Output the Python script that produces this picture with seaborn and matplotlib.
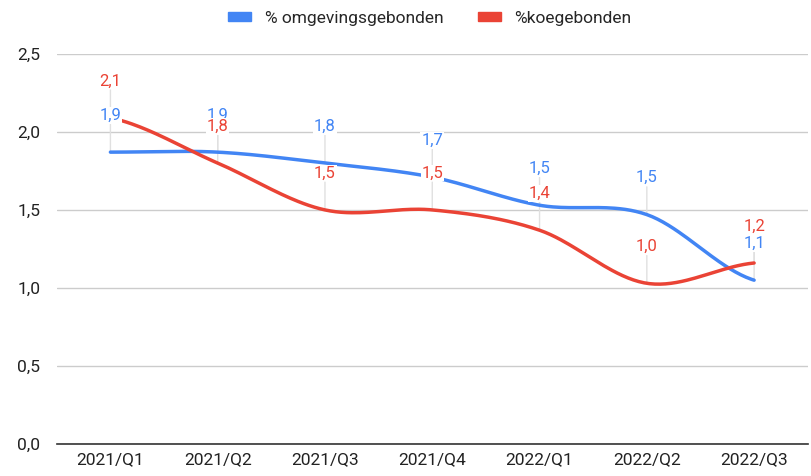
import numpy as np
import pandas as pd
import seaborn as sns
import matplotlib.pyplot as plt
from matplotlib.patches import Patch
from matplotlib.ticker import FuncFormatter

sns.set_theme(style="white")
plt.rcParams['font.family'] = ['Roboto', 'DejaVu Sans']

quarters = ["2021/Q1", "2021/Q2", "2021/Q3", "2021/Q4", "2022/Q1", "2022/Q2", "2022/Q3"]
omgeving = [1.87, 1.87, 1.80, 1.71, 1.53, 1.47, 1.05]
koe = [2.09, 1.80, 1.50, 1.50, 1.37, 1.03, 1.16]

blue = "#4285F4"
red = "#EA4335"


def smooth(vals, n=40):
    # catmull-rom curve through the points, for the rounded line look
    p = np.array(vals, dtype=float)
    p = np.concatenate([[p[0]], p, [p[-1]]])
    xs, ys = [], []
    for i in range(1, len(p) - 2):
        t = np.linspace(0, 1, n, endpoint=False)
        p0, p1, p2, p3 = p[i - 1], p[i], p[i + 1], p[i + 2]
        y = 0.5 * (2 * p1 + (-p0 + p2) * t + (2 * p0 - 5 * p1 + 4 * p2 - p3) * t ** 2
                   + (-p0 + 3 * p1 - 3 * p2 + p3) * t ** 3)
        xs.extend(i - 1 + t)
        ys.extend(y)
    xs.append(len(vals) - 1)
    ys.append(vals[-1])
    return pd.DataFrame({"x": xs, "y": ys})


fig = plt.figure(figsize=(8.11, 4.76), dpi=100)
ax = fig.add_axes([0.070, 0.067, 0.926, 0.82])

for vals, col in [(omgeving, blue), (koe, red)]:
    sns.lineplot(data=smooth(vals), x="x", y="y", color=col, linewidth=2.5, ax=ax,
                 estimator=None, sort=False, zorder=2)

# leader lines first, labels (with white box) on top of the lines
for vals, col in [(omgeving, blue), (koe, red)]:
    for i, v in enumerate(vals):
        ax.annotate("", xy=(i, v), xytext=(0, 20), textcoords="offset points",
                    arrowprops=dict(arrowstyle="-", color="#e0e0e0", lw=1,
                                    shrinkA=0, shrinkB=0),
                    zorder=1)
for vals, col in [(omgeving, blue), (koe, red)]:
    for i, v in enumerate(vals):
        ax.annotate(f"{v:.1f}".replace(".", ","), xy=(i, v), xytext=(0, 26.5),
                    textcoords="offset points", ha="center", va="center",
                    color=col, fontsize=12, zorder=5,
                    bbox=dict(boxstyle="square,pad=0.05", fc="white", ec="none"))

ax.set_xlim(-0.5, len(quarters) - 0.5)
ax.set_ylim(0, 2.5)
ax.set_yticks([0, 0.5, 1.0, 1.5, 2.0, 2.5])
ax.yaxis.set_major_formatter(FuncFormatter(lambda v, _: f"{v:.1f}".replace(".", ",")))
ax.set_xticks(range(len(quarters)))
ax.set_xticklabels(quarters)
ax.tick_params(axis="both", labelsize=12.5, colors="#222222", length=0)
ax.tick_params(axis="y", pad=12)
ax.tick_params(axis="x", pad=6)
ax.set_xlabel("")
ax.set_ylabel("")
ax.grid(axis="y", color="#cccccc", linewidth=1)
ax.set_axisbelow(True)
for s in ["top", "right", "left"]:
    ax.spines[s].set_visible(False)
ax.spines["bottom"].set_color("#333333")
ax.spines["bottom"].set_linewidth(1.2)

handles = [Patch(color=blue, label="% omgevingsgebonden"),
           Patch(color=red, label="%koegebonden")]
fig.legend(handles=handles, loc="upper center", bbox_to_anchor=(0.53, 1.01), ncol=2,
           frameon=False, fontsize=12.5, handlelength=1.3, handleheight=0.45,
           columnspacing=2.0, handletextpad=0.8)

fig.savefig("out.png", dpi=100)
